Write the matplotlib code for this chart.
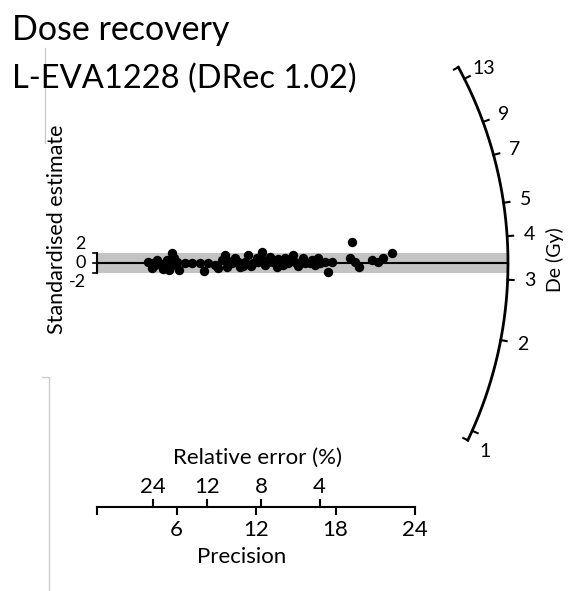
import numpy as np
import matplotlib.pyplot as plt
from matplotlib.lines import Line2D

plt.rcParams['font.family'] = ['Lato', 'DejaVu Sans']

# data: precision (1/sigma) and standardised estimate
precision = np.array([
    3.87, 4.20, 4.13, 4.55, 4.88, 4.96, 5.31, 5.21, 5.46, 5.64, 5.81, 6.02, 6.21, 6.64, 7.15,
    4.38, 5.66,
    7.77, 8.04, 8.40, 8.91, 9.41, 9.66, 9.79, 10.17, 10.42, 10.79, 11.17, 11.42, 11.80, 12.05,
    12.43, 12.55, 12.68, 13.06, 13.31, 13.56, 13.94, 14.19, 14.44, 14.82, 14.94, 15.45, 15.70, 16.08,
    9.13, 9.89, 10.64, 11.02, 11.62, 12.15, 12.91, 13.66, 14.04, 14.57, 15.17, 15.55, 16.45,
    16.20, 16.70, 16.83, 17.21, 17.46, 17.71, 19.22, 19.09, 19.47, 19.80, 20.73, 21.23, 21.61, 22.24,
])
z_score = np.array([
    0.27, -0.06, -1.02, 0.61, -0.20, -1.29, 0.61, -0.41, -1.43, 1.98, 0.96, 0.27, -1.43, 0.06, 0.06,
    -0.41, -0.41,
    -0.06, -1.73, -0.06, -0.41, 0.61, 1.63, -0.76, -0.06, 0.96, -0.76, 0.27, 1.63, -0.06, 0.96,
    2.31, 0.61, -0.41, 1.29, 0.27, -0.76, 0.27, 0.96, -0.06, 1.63, 0.27, 0.27, -0.06, -0.06,
    -1.02, 0.41, 0.20, -0.61, -0.61, 0.20, 0.20, 0.82, -0.41, 0.61, -0.61, 1.02, -0.41,
    0.61, 0.96, -0.06, 0.27, -1.78, 0.27, 4.22, 0.96, 0.27, -0.76, 0.61, 0.27, 0.96, 1.98,
])

de_central = 3.35
de_ticks = [1, 2, 3, 4, 5, 7, 9, 13]
de_arc_range = (0.92, 14.5)
prec_ticks = [6, 12, 18]
prec_max = 24
rel_err_labels = [24, 12, 8, 4]
rel_err_pos = [4.2, 8.3, 12.4, 16.8]

# layout in pixels
W, H = 582, 591
x0_px, y0_px = 97, 263
sx, sy = 13.25, 4.9          # pixels per unit of precision / of z
k = sx / sy
R = 411 / sx                  # arc radius in precision units
px = 0.72                     # points per pixel

fig = plt.figure(figsize=(W / 100, H / 100), dpi=100)
ax = fig.add_axes([0, 0, 1, 1])
ax.set_xlim(-x0_px / sx, (W - x0_px) / sx)
ax.set_ylim(-(H - y0_px) / sy, y0_px / sy)
ax.axis('off')

# +-2 band and central line
ax.fill_between([0, R], [-2, -2], [2, 2], color='#c3c3c3', lw=0, zorder=1)
ax.plot([0, R], [0, 0], color='black', lw=1.5, zorder=2)

# points
ax.scatter(precision, z_score, s=46, color='black', lw=0, zorder=3)

# standardised estimate axis
ax.plot([0, 0], [-2, 2], color='black', lw=1.5, zorder=2)
for t, off in zip([2, 0, -2], [9, 0, -9]):
    ax.plot([-4 / sx, 0], [t, t], color='black', lw=1.2)
    ax.annotate(str(t), xy=(0, t), xytext=(-11 * px, off * px), textcoords='offset points',
                ha='right', va='center', fontsize=13)

# radial De axis
def angle(de):
    return np.arctan(np.log(de / de_central) / k)

th = np.linspace(angle(de_arc_range[0]), angle(de_arc_range[1]), 300)
ax.plot(R * np.cos(th), R * k * np.sin(th), color='black', lw=2)
for a in [th[0], th[-1]]:
    ax.plot([R * np.cos(a), (R * sx - 5) * np.cos(a) / sx],
            [R * k * np.sin(a), (R * k * sy - 5) * np.sin(a) / sy], color='black', lw=1.5)
for d in de_ticks:
    a = angle(d)
    xa, za = R * np.cos(a), R * k * np.sin(a)
    ax.plot([xa, xa + 6 / sx * np.cos(a)], [za, za + 6 / sy * np.sin(a)], color='black', lw=1.5)
    dx, dy = 22 * np.cos(a), 22 * np.sin(a)
    if d == 1:
        dx, dy = 13, -21
    ax.annotate(str(d), xy=(xa, za), xytext=(dx * px, dy * px),
                textcoords='offset points', ha='center', va='center', fontsize=14)

# precision axis
z_ax = (y0_px - 507) / sy
ax.plot([0, prec_max], [z_ax, z_ax], color='black', lw=1.5)
for p in [0] + prec_ticks + [prec_max]:
    ax.plot([p, p], [z_ax, z_ax - 7 / sy], color='black', lw=1.5)
for p in prec_ticks + [prec_max]:
    ax.annotate(str(p), xy=(p, z_ax), xytext=(0, -23 * px), textcoords='offset points',
                ha='center', va='center', fontsize=16)
for p, lab in zip(rel_err_pos, rel_err_labels):
    ax.plot([p, p], [z_ax, z_ax + 7 / sy], color='black', lw=1.5)
    ax.annotate(str(lab), xy=(p, z_ax), xytext=(0, 20 * px), textcoords='offset points',
                ha='center', va='center', fontsize=16)
ax.annotate('Relative error (%)', xy=(12.15, z_ax), xytext=(0, 49 * px), textcoords='offset points',
            ha='center', va='center', fontsize=16)
ax.annotate('Precision', xy=(10.9, z_ax), xytext=(0, -50 * px), textcoords='offset points',
            ha='center', va='center', fontsize=16)

# labels and titles
fig.text(57 / W, 1 - 229 / H, 'Standardised estimate', rotation=90, ha='center', va='center', fontsize=15.5)
fig.text(555 / W, 1 - 260 / H, 'De (Gy)', rotation=90, ha='center', va='center', fontsize=14)
fig.text(12 / W, 1 - 40 / H, 'Dose recovery', ha='left', va='baseline', fontsize=24.5)
fig.text(12 / W, 1 - 88 / H, 'L-EVA1228 (DRec 1.02)', ha='left', va='baseline', fontsize=23.5)

# faint frame remnant on the left
fig.add_artist(Line2D([45 / W, 45 / W], [1 - 48 / H, 1 - 143 / H], color='#cccccc', lw=1))
fig.add_artist(Line2D([42 / W, 49 / W, 49 / W], [1 - 377 / H, 1 - 377 / H, 0], color='#cccccc', lw=1))

fig.savefig('out.png', dpi=100)
